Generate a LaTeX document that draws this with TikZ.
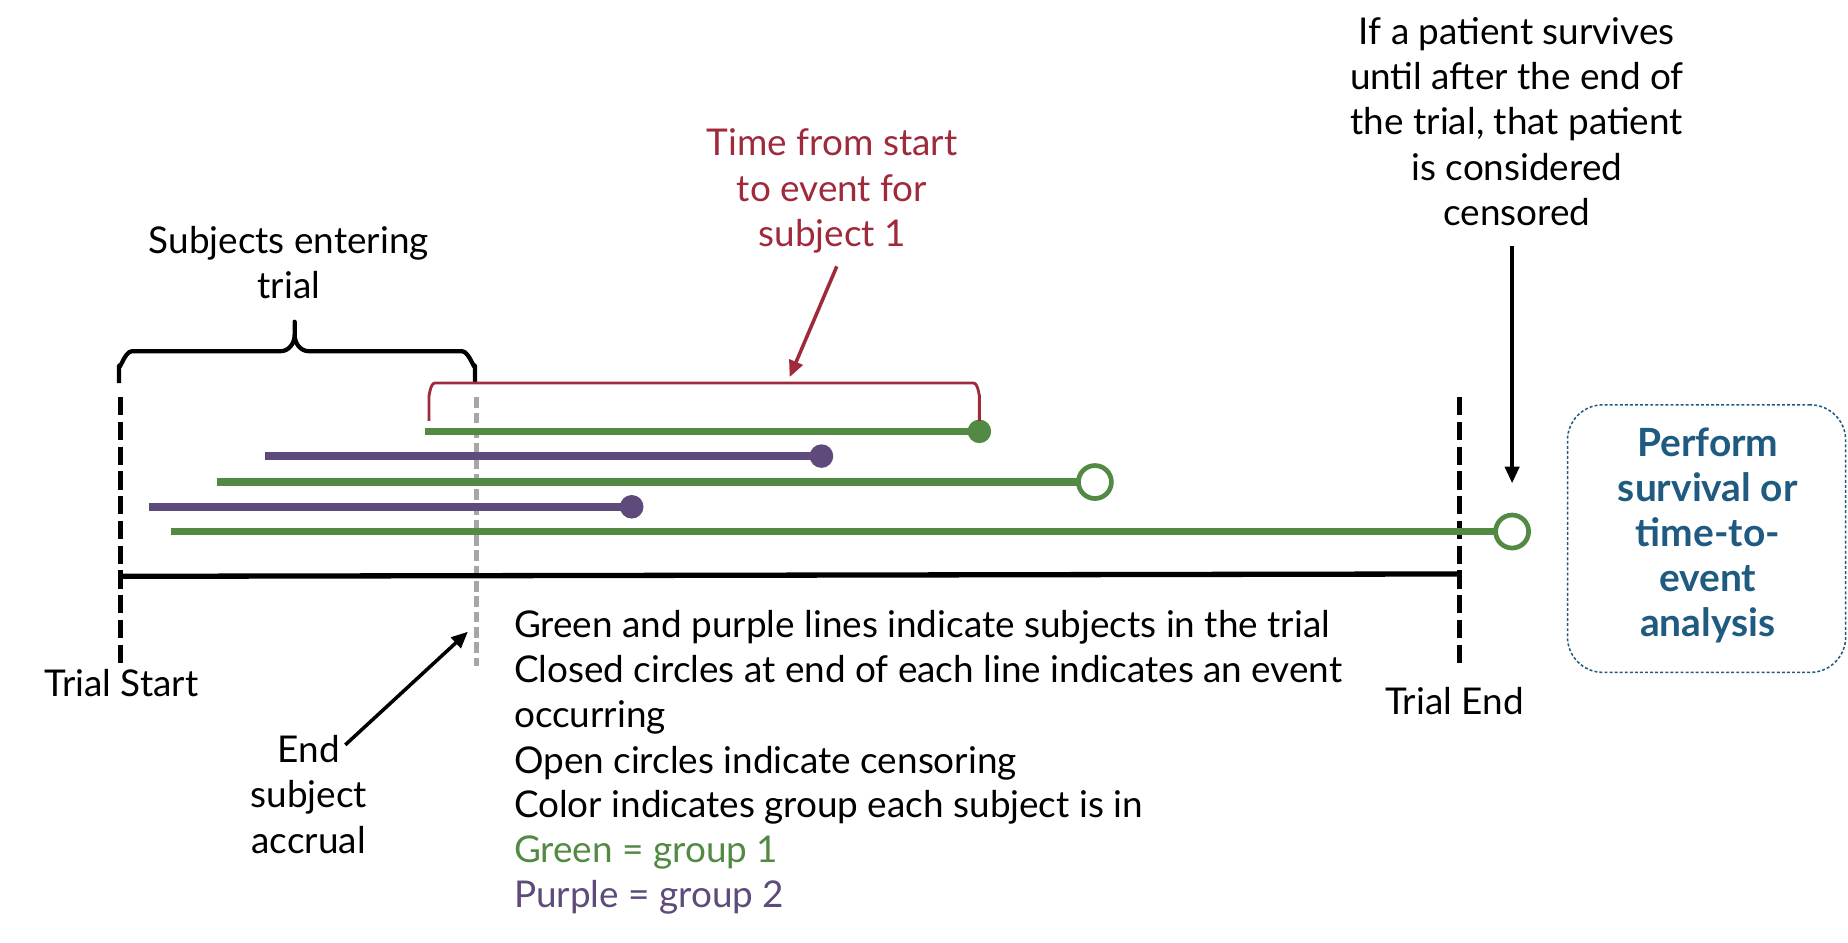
\documentclass[tikz,border=0pt]{standalone}
\usepackage{fontspec}
\setmainfont{Lato}
\usetikzlibrary{arrows.meta}
\definecolor{grn}{HTML}{538A43}
\definecolor{prp}{HTML}{5E4A7B}
\definecolor{redc}{HTML}{9E2A3B}
\definecolor{blu}{HTML}{1F5A80}
\definecolor{gry}{HTML}{A6A6A6}
\begin{document}
\begin{tikzpicture}[x=1pt,y=-1pt,
  txt/.style={font=\fontsize{31.3}{38.4}\selectfont, inner sep=0, align=center},
  subj/.style={line width=6.3},
  dotc/.style={circle, inner sep=0, minimum size=20},
  odot/.style={circle, draw=grn, fill=white, line width=4, minimum size=28, inner sep=0},
  vdash/.style={line width=4.2, dash pattern=on 15.5 off 5.5},
  tip/.style={-{Triangle[length=14,width=12]}},
]
\useasboundingbox (0,0) rectangle (1568,799.3);

% subject lines
\coordinate (g1s) at (361,366);
\coordinate (p1s) at (225,387);
\coordinate (g2s) at (184,409);
\coordinate (p2s) at (126,430);
\coordinate (g3s) at (145,451);
\coordinate (g1e) at (831,366);
\coordinate (p1e) at (697,387);
\coordinate (g2e) at (929,409);
\coordinate (p2e) at (536,430);
\coordinate (g3e) at (1283,451);

% vertical dashed lines and axis
\coordinate (ls) at (102,337); \coordinate (le) at (102,565);
\coordinate (rs) at (1238,337); \coordinate (re) at (1238,565);
\coordinate (gs) at (404,337); \coordinate (ge) at (404,565);
\draw[vdash] (ls) -- (le);
\draw[vdash] (rs) -- (re);
\draw[line width=4, gry, dash pattern=on 9 off 4] (gs) -- (ge);
\coordinate (a0) at (102,489); \coordinate (a1) at (1238,487);
\draw[line width=4.5] (a0) -- (a1);

\draw[subj,grn] (g1s) -- (g1e);
\draw[subj,prp] (p1s) -- (p1e);
\draw[subj,grn] (g2s) -- (g2e);
\draw[subj,prp] (p2s) -- (p2e);
\draw[subj,grn] (g3s) -- (g3e);
\node[dotc,fill=grn] (d1) at (g1e) {};
\node[dotc,fill=prp] (d2) at (p1e) {};
\node[odot] (o1) at (g2e) {};
\node[dotc,fill=prp] (d3) at (p2e) {};
\node[odot] (o2) at (g3e) {};

% black brace
\draw[line width=3.6, line join=round]
  (101,325) -- (101,310) to[out=-90,in=180] (112,298) -- (238,298)
  to[out=0,in=-90] (250,284) -- (250,273) -- (250,284)
  to[out=-90,in=180] (262,298) -- (392,298) to[out=0,in=-90] (403,310) -- (403,325);
\node[txt] (subjtxt) at (245,223) {Subjects entering\\trial};

% red bracket
\draw[line width=2.4, redc]
  (364,357) -- (364,335) to[out=-90,in=180] (369,325) -- (826,325)
  to[out=0,in=-90] (831,335) -- (831,357);
\node[txt, text=redc] (redtxt) at (706,162) {Time from start\\to event for\\subject 1};
\coordinate (rt0) at (710,226); \coordinate (rt1) at (670,320);
\draw[tip, redc, line width=3] (rt0) -- (rt1);

% top right note
\node[txt] (cens) at (1287,103) {If a patient survives\\until after the end of\\the trial, that patient\\is considered\\censored};
\coordinate (ct0) at (1283,209); \coordinate (ct1) at (1283,410);
\draw[tip, line width=3] (ct0) -- (ct1);

% box
\node[draw=blu, line width=1.3, dash pattern=on 2.5 off 1.8, rounded corners=30,
      minimum width=236, minimum height=227, inner sep=0] (box) at (1448,457) {};
\node[txt, text=blu, font=\fontsize{33}{38.2}\selectfont\bfseries] (boxtxt) at (1449,454)
  {Perform\\survival or\\time-to-\\event\\analysis};

% trial labels
\node[txt, anchor=base] (tstart) at (103,591) {Trial Start};
\node[txt, anchor=base] (tend) at (1234,606) {Trial End};

% end accrual
\node[txt] (endacc) at (262,674) {End\\subject\\accrual};
\coordinate (ea0) at (293,632); \coordinate (ea1) at (397,536);
\draw[tip, line width=3] (ea0) -- (ea1);

% legend
\node[txt, anchor=base west] (l1) at (436,541) {Green and purple lines indicate subjects in the trial};
\node[txt, anchor=base west] (l2) at (436,579) {Closed circles at end of each line indicates an event};
\node[txt, anchor=base west] (l3) at (436,617) {occurring};
\node[txt, anchor=base west] (l4) at (436,656) {Open circles indicate censoring};
\node[txt, anchor=base west] (l5) at (436,694) {Color indicates group each subject is in};
\node[txt, anchor=base west, text=grn] (l6) at (436,732) {Green = group 1};
\node[txt, anchor=base west, text=prp] (l7) at (436,770) {Purple = group 2};
\end{tikzpicture}
\end{document}
